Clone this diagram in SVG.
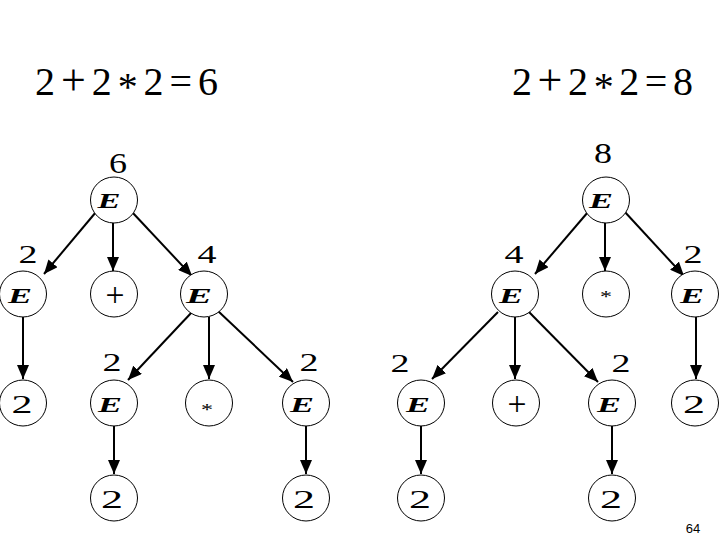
<svg xmlns="http://www.w3.org/2000/svg" width="720" height="540" viewBox="0 0 720 540">
<style>
.n{fill:#fff;stroke:#000;stroke-width:1}
.e{font-family:"Liberation Serif","DejaVu Serif",serif;font-style:italic;font-weight:bold;font-size:22px;text-anchor:middle}
.d{font-family:"Liberation Serif","DejaVu Serif",serif;font-size:25px;text-anchor:middle}
.v{font-family:"Liberation Serif","DejaVu Serif",serif;font-size:26px;text-anchor:middle}
.vt{font-family:"Liberation Serif","DejaVu Serif",serif;font-size:29px;text-anchor:middle}
.op{font-family:"Liberation Serif","DejaVu Serif",serif;font-size:34px;text-anchor:middle}
.st{font-family:"Liberation Serif","DejaVu Serif",serif;font-size:16px;text-anchor:middle}
.eq{font-family:"Liberation Serif","DejaVu Serif",serif;font-size:40px}
.c line{stroke:#000;stroke-width:2;marker-end:url(#a)}
</style>
<defs>
<marker id="a" markerUnits="userSpaceOnUse" markerWidth="14" markerHeight="12" refX="14" refY="6" orient="auto"><path d="M0,0 L14,6 L0,12 z" fill="#000"/></marker>
</defs>
<rect width="720" height="540" fill="#fff"/>
<text class="eq" x="35" y="95" textLength="183" lengthAdjust="spacing">2 <tspan font-size="44">+</tspan> 2 <tspan dy="5">*</tspan><tspan dy="-5"> 2 = 6</tspan></text>
<text class="eq" x="512" y="95" textLength="181" lengthAdjust="spacing">2 <tspan font-size="44">+</tspan> 2 <tspan dy="5">*</tspan><tspan dy="-5"> 2 = 8</tspan></text>
<g class="c">
<line x1="96" y1="212" x2="44" y2="274"/>
<line x1="113" y1="223" x2="113" y2="271"/>
<line x1="132" y1="212" x2="192" y2="276"/>
<line x1="23" y1="317" x2="23" y2="379"/>
<line x1="192" y1="312" x2="128" y2="380"/>
<line x1="209" y1="317" x2="209" y2="379"/>
<line x1="218" y1="311" x2="293" y2="382"/>
<line x1="114" y1="426" x2="114" y2="474"/>
<line x1="306" y1="426" x2="306" y2="474"/>
<line x1="588" y1="212" x2="535" y2="274"/>
<line x1="605" y1="223" x2="605" y2="271"/>
<line x1="624" y1="211" x2="684" y2="276"/>
<line x1="498" y1="312" x2="432" y2="379"/>
<line x1="515" y1="317" x2="515" y2="379"/>
<line x1="528" y1="311" x2="598" y2="382"/>
<line x1="696" y1="317" x2="696" y2="379"/>
<line x1="421" y1="426" x2="421" y2="474"/>
<line x1="612" y1="426" x2="612" y2="474"/>
</g>
<g id="L_root"><ellipse class="n" cx="114" cy="200" rx="23.5" ry="23"/><text class="e" x="109" y="208" textLength="23" lengthAdjust="spacingAndGlyphs">E</text><text class="vt" x="118" y="173" textLength="18" lengthAdjust="spacingAndGlyphs">6</text></g>
<g id="L_E1"><ellipse class="n" cx="23" cy="294" rx="23.5" ry="23"/><text class="e" x="20" y="303" textLength="24" lengthAdjust="spacingAndGlyphs">E</text><text class="v" x="28" y="263" textLength="19" lengthAdjust="spacingAndGlyphs">2</text></g>
<g id="L_plus"><ellipse class="n" cx="114" cy="294" rx="23.5" ry="23"/><text class="op" x="115" y="306" textLength="19" lengthAdjust="spacingAndGlyphs">+</text></g>
<g id="L_E2"><ellipse class="n" cx="204" cy="294" rx="23.5" ry="23"/><text class="e" x="199" y="303" textLength="26" lengthAdjust="spacingAndGlyphs">E</text><text class="v" x="207" y="263" textLength="19" lengthAdjust="spacingAndGlyphs">4</text></g>
<g id="L_leaf1"><ellipse class="n" cx="23" cy="403" rx="23.5" ry="23"/><text class="d" x="22" y="413" textLength="21" lengthAdjust="spacingAndGlyphs">2</text></g>
<g id="L_E3"><ellipse class="n" cx="114" cy="403" rx="23.5" ry="23"/><text class="e" x="110" y="412" textLength="24" lengthAdjust="spacingAndGlyphs">E</text><text class="v" x="112" y="371" textLength="19" lengthAdjust="spacingAndGlyphs">2</text></g>
<g id="L_star"><ellipse class="n" cx="209" cy="403" rx="23.5" ry="23"/><text class="st" x="207" y="415" textLength="12" lengthAdjust="spacingAndGlyphs">*</text></g>
<g id="L_E4"><ellipse class="n" cx="306" cy="403" rx="23.5" ry="23"/><text class="e" x="302" y="412" textLength="24" lengthAdjust="spacingAndGlyphs">E</text><text class="v" x="309" y="371" textLength="19" lengthAdjust="spacingAndGlyphs">2</text></g>
<g id="L_leaf2"><ellipse class="n" cx="114" cy="498" rx="23.5" ry="23"/><text class="d" x="112" y="508" textLength="22" lengthAdjust="spacingAndGlyphs">2</text></g>
<g id="L_leaf3"><ellipse class="n" cx="306" cy="498" rx="23.5" ry="23"/><text class="d" x="304" y="508" textLength="22" lengthAdjust="spacingAndGlyphs">2</text></g>
<g id="R_root"><ellipse class="n" cx="606" cy="200" rx="23.5" ry="23"/><text class="e" x="601" y="208" textLength="24" lengthAdjust="spacingAndGlyphs">E</text><text class="vt" x="603" y="163" textLength="18" lengthAdjust="spacingAndGlyphs">8</text></g>
<g id="R_E1"><ellipse class="n" cx="515" cy="294" rx="23.5" ry="23"/><text class="e" x="511" y="303" textLength="24" lengthAdjust="spacingAndGlyphs">E</text><text class="v" x="514" y="263" textLength="19" lengthAdjust="spacingAndGlyphs">4</text></g>
<g id="R_star"><ellipse class="n" cx="606" cy="294" rx="23.5" ry="23"/><text class="st" x="606" y="302" textLength="12" lengthAdjust="spacingAndGlyphs">*</text></g>
<g id="R_E2"><ellipse class="n" cx="695" cy="294" rx="23.5" ry="23"/><text class="e" x="692" y="303" textLength="24" lengthAdjust="spacingAndGlyphs">E</text><text class="v" x="693" y="263" textLength="19" lengthAdjust="spacingAndGlyphs">2</text></g>
<g id="R_E3"><ellipse class="n" cx="421" cy="403" rx="23.5" ry="23"/><text class="e" x="418" y="412" textLength="24" lengthAdjust="spacingAndGlyphs">E</text><text class="v" x="400" y="372" textLength="19" lengthAdjust="spacingAndGlyphs">2</text></g>
<g id="R_plus"><ellipse class="n" cx="516" cy="403" rx="23.5" ry="23"/><text class="op" x="517" y="415" textLength="19" lengthAdjust="spacingAndGlyphs">+</text></g>
<g id="R_E4"><ellipse class="n" cx="612" cy="403" rx="23.5" ry="23"/><text class="e" x="609" y="412" textLength="24" lengthAdjust="spacingAndGlyphs">E</text><text class="v" x="621" y="372" textLength="19" lengthAdjust="spacingAndGlyphs">2</text></g>
<g id="R_leaf1"><ellipse class="n" cx="695" cy="403" rx="23.5" ry="23"/><text class="d" x="694" y="413" textLength="22" lengthAdjust="spacingAndGlyphs">2</text></g>
<g id="R_leaf2"><ellipse class="n" cx="421" cy="498" rx="23.5" ry="23"/><text class="d" x="420" y="508" textLength="22" lengthAdjust="spacingAndGlyphs">2</text></g>
<g id="R_leaf3"><ellipse class="n" cx="612" cy="498" rx="23.5" ry="23"/><text class="d" x="611" y="508" textLength="22" lengthAdjust="spacingAndGlyphs">2</text></g>
<text x="693" y="533" font-family="Liberation Sans, Arial, sans-serif" font-size="13" text-anchor="middle">64</text>
</svg>
